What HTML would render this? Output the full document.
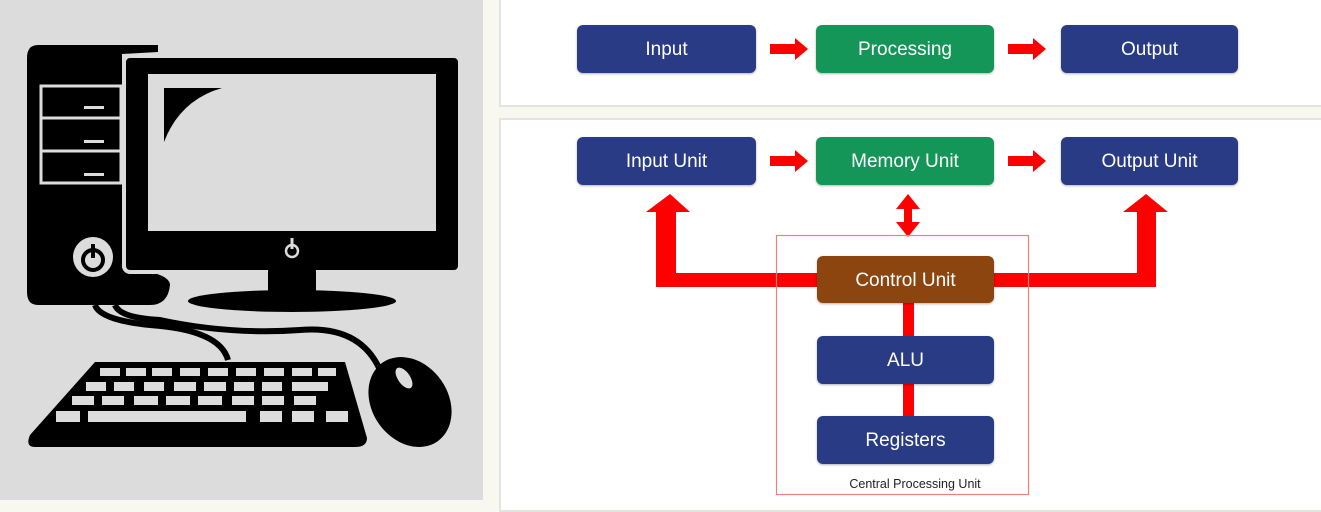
<!DOCTYPE html>
<html><head><style>
html,body{margin:0;padding:0;width:1321px;height:500px;overflow:hidden;background:#f8f8f0;font-family:"Liberation Sans",sans-serif}
.b{position:absolute;color:#fff;font-size:19px;display:flex;align-items:center;justify-content:center;border-radius:6px;box-shadow:0 1px 2px rgba(0,0,0,.3);padding-top:2px;box-sizing:border-box}
.bl{background:#2a3b86}.gr{background:#159659}.br{background:#8d4510}
</style></head><body>
<div style="position:absolute;left:0;top:0;width:483px;height:500px;background:#dcdcdc"></div>
<div style="position:absolute;left:499px;top:-2px;width:830px;height:105px;background:#fff;border:2px solid #e4e4dc"></div>
<div style="position:absolute;left:499px;top:118px;width:830px;height:390px;background:#fff;border:2px solid #e4e4dc"></div>
<svg style="position:absolute;left:0;top:0" width="483" height="500">
<path d="M38 45 L158 45 L158 52 L122 54 L122 268 Q170 272 170 285 Q168 305 150 305 L38 305 Q27 305 27 292 L27 58 Q27 45 38 45Z" fill="#000"/>
<rect x="41" y="86" width="80" height="97" fill="none" stroke="#dcdcdc" stroke-width="3"/>
<line x1="41" y1="118" x2="121" y2="118" stroke="#dcdcdc" stroke-width="3"/>
<line x1="41" y1="151" x2="121" y2="151" stroke="#dcdcdc" stroke-width="3"/>
<rect x="84" y="106" width="20" height="3" fill="#dcdcdc"/><rect x="84" y="140" width="20" height="3" fill="#dcdcdc"/><rect x="84" y="173" width="20" height="3" fill="#dcdcdc"/>
<circle cx="93" cy="257" r="20" fill="#dcdcdc"/><circle cx="93" cy="260" r="10" fill="none" stroke="#000" stroke-width="4"/><rect x="91" y="244" width="4" height="14" fill="#000"/>
<rect x="124" y="56" width="336" height="216" rx="6" fill="#000" stroke="#dcdcdc" stroke-width="4"/>
<rect x="148" y="74" width="288" height="157" fill="#dcdcdc"/>
<path d="M164 88 L222 88 Q180 100 164 142Z" fill="#000"/>
<circle cx="292" cy="251" r="6" fill="none" stroke="#dcdcdc" stroke-width="2.5"/><rect x="290.5" y="238" width="3" height="11" fill="#dcdcdc"/>
<rect x="268" y="270" width="48" height="22" fill="#000"/>
<ellipse cx="292" cy="301" rx="104" ry="11" fill="#000"/>
<path d="M95 305 Q100 320 150 325 Q220 330 228 360" stroke="#000" stroke-width="6" fill="none"/>
<path d="M115 305 Q120 318 160 320 Q230 335 300 330 Q360 325 380 370" stroke="#000" stroke-width="6" fill="none"/>
<path d="M95 362 L345 362 L367 438 Q367 447 355 447 L35 447 Q25 447 30 435Z" fill="#000"/>
<g fill="#dcdcdc">
<rect x="100" y="368" width="20" height="8"/><rect x="126" y="368" width="20" height="8"/><rect x="152" y="368" width="20" height="8"/><rect x="180" y="368" width="20" height="8"/><rect x="208" y="368" width="20" height="8"/><rect x="236" y="368" width="20" height="8"/><rect x="264" y="368" width="20" height="8"/><rect x="292" y="368" width="20" height="8"/><rect x="318" y="368" width="18" height="8"/>
<rect x="86" y="382" width="20" height="9"/><rect x="114" y="382" width="20" height="9"/><rect x="144" y="382" width="20" height="9"/><rect x="174" y="382" width="22" height="9"/><rect x="204" y="382" width="22" height="9"/><rect x="234" y="382" width="20" height="9"/><rect x="262" y="382" width="20" height="9"/><rect x="292" y="382" width="36" height="9"/>
<rect x="72" y="396" width="22" height="9"/><rect x="102" y="396" width="22" height="9"/><rect x="134" y="396" width="24" height="9"/><rect x="166" y="396" width="24" height="9"/><rect x="198" y="396" width="24" height="9"/><rect x="232" y="396" width="22" height="9"/><rect x="262" y="396" width="22" height="9"/><rect x="294" y="396" width="22" height="9"/>
<rect x="56" y="411" width="24" height="11"/><rect x="88" y="411" width="158" height="11"/><rect x="260" y="411" width="22" height="11"/><rect x="292" y="411" width="22" height="11"/><rect x="326" y="411" width="22" height="11"/>
</g>
<ellipse cx="410" cy="402" rx="38" ry="48" transform="rotate(-35 410 402)" fill="#000"/>
<ellipse cx="404" cy="378" rx="6" ry="12" transform="rotate(-35 404 378)" fill="#dcdcdc"/>
</svg>
<svg style="position:absolute;left:0;top:0" width="1321" height="500">
<g fill="#f00">
<polygon points="770,44 795,44 795,38 808,49 795,60 795,54 770,54"/>
<polygon points="1008,44 1033,44 1033,38 1046,49 1033,60 1033,54 1008,54"/>
<polygon points="770,156 795,156 795,150 808,161 795,172 795,166 770,166"/>
<polygon points="1008,156 1033,156 1033,150 1046,161 1033,172 1033,166 1008,166"/>
<rect x="656" y="212" width="20" height="75"/>
<rect x="656" y="273" width="162" height="14"/>
<polygon points="646,212 670,194 690,212"/>
<rect x="994" y="273" width="162" height="14"/>
<rect x="1137" y="212" width="19" height="75"/>
<polygon points="1123,212 1146,194 1168,212"/>
<polygon points="896,209 908,194 920,209 912,209 912,222 920,222 908,237 896,222 904,222 904,209"/>
<rect x="903" y="303" width="11" height="34"/>
<rect x="903" y="384" width="11" height="34"/>
</g>
<rect x="776.5" y="235.5" width="252" height="259" fill="none" stroke="#f08080" stroke-width="1.2"/>
<text x="915" y="488" font-size="12.5" fill="#222" text-anchor="middle" font-family="Liberation Sans">Central Processing  Unit</text>
</svg>
<div class="b bl" style="left:577px;top:25px;width:179px;height:48px">Input</div>
<div class="b gr" style="left:816px;top:25px;width:178px;height:48px">Processing</div>
<div class="b bl" style="left:1061px;top:25px;width:177px;height:48px">Output</div>
<div class="b bl" style="left:577px;top:137px;width:179px;height:48px">Input Unit</div>
<div class="b gr" style="left:816px;top:137px;width:178px;height:48px">Memory Unit</div>
<div class="b bl" style="left:1061px;top:137px;width:177px;height:48px">Output Unit</div>
<div class="b br" style="left:817px;top:256px;width:177px;height:47px">Control Unit</div>
<div class="b bl" style="left:817px;top:336px;width:177px;height:48px">ALU</div>
<div class="b bl" style="left:817px;top:416px;width:177px;height:48px">Registers</div>
</body></html>
